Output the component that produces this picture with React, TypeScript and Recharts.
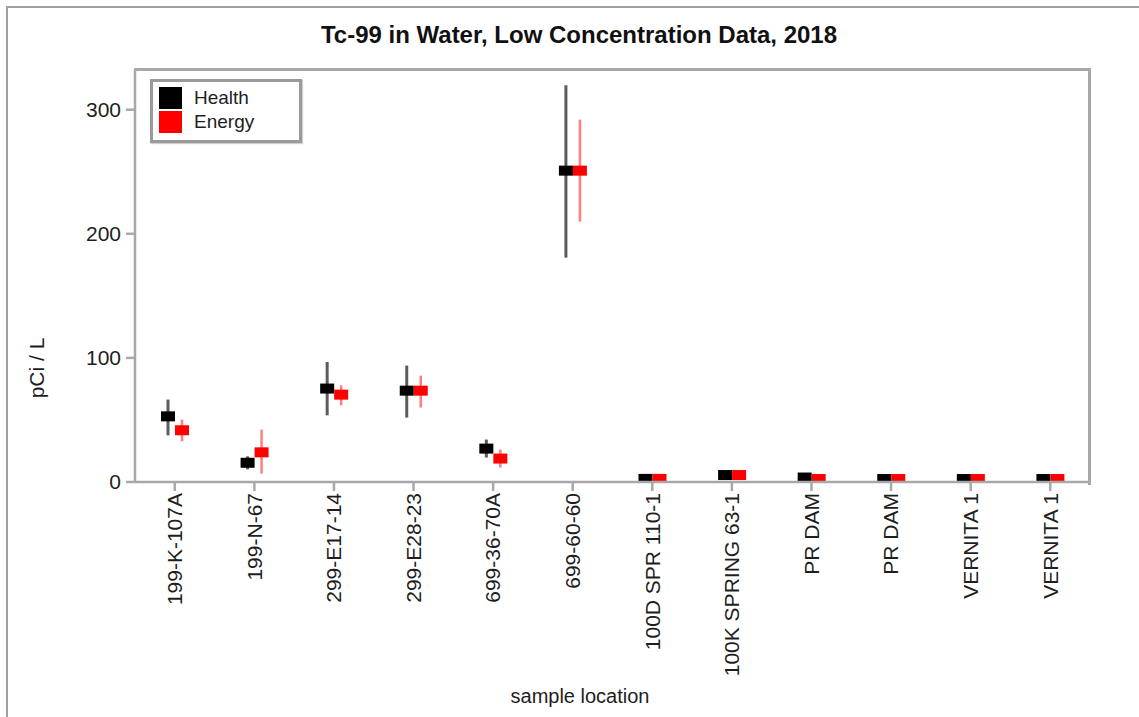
import React from "react";
import { ComposedChart, Bar, XAxis, YAxis } from "recharts";

const categories = [
  "199-K-107A",
  "199-N-67",
  "299-E17-14",
  "299-E28-23",
  "699-36-70A",
  "699-60-60",
  "100D SPR 110-1",
  "100K SPRING 63-1",
  "PR DAM",
  "PR DAM",
  "VERNITA 1",
  "VERNITA 1",
];

const healthValue = [52.9, 15.5, 75.3, 73.6, 26.9, 250.9, 2.5, 5.6, 3.6, 2.4, 2.4, 2.4];
const healthLow = [37.6, 10.2, 53.7, 51.9, 19.7, 180.8, 1.6, 4.6, 2.8, 1.8, 1.8, 1.8];
const healthHigh = [66.4, 20.7, 96.7, 93.8, 34.2, 319.7, 3.4, 6.6, 4.4, 3.0, 3.0, 3.0];

const energyValue = [41.7, 23.9, 70.4, 73.6, 18.9, 250.9, 2.5, 5.6, 2.4, 2.4, 2.4, 2.4];
const energyLow = [32.8, 6.8, 61.8, 60.0, 11.6, 209.8, 1.6, 4.6, 1.8, 1.8, 1.8, 1.8];
const energyHigh = [50.3, 42.2, 77.9, 85.7, 26.1, 292.0, 3.4, 6.6, 3.0, 3.0, 3.0, 3.0];

const yTicks = [0, 100, 200, 300];
const yMax = 332;

const data = categories.map((name, i) => ({
  idx: i,
  name,
  health: healthValue[i],
  healthLow: healthLow[i],
  healthHigh: healthHigh[i],
  energy: energyValue[i],
  energyLow: energyLow[i],
  energyHigh: energyHigh[i],
}));

const FONT = "'Liberation Sans', Arial, sans-serif";
const FRAME = "#a8a8a8";
const TEXT = "#1e1e1e";

// Marker with its error bar, both placed from the bar geometry the library computed
const makeShape = (key: string, errColor: string, errWidth: number) => (props: any) => {
  const { x, y, width, height, fill, payload } = props;
  if (x == null || y == null || !payload) return <g />;
  const v = payload[key];
  const base = y + height; // pixel of value 0
  const pxPerUnit = v ? height / v : 0;
  const yOf = (val: number) => base - val * pxPerUnit;
  const cx = x + width / 2;
  return (
    <g>
      <line
        x1={cx}
        x2={cx}
        y1={yOf(payload[key + "High"])}
        y2={yOf(payload[key + "Low"])}
        stroke={errColor}
        strokeWidth={errWidth}
      />
      <rect x={x} y={y - 5} width={width} height={10} fill={fill} />
    </g>
  );
};

const HealthShape = makeShape("health", "#5c5c5c", 3);
const EnergyShape = makeShape("energy", "#ff7f7f", 2.5);

const XTick = (props: any) => {
  const { x, y, payload } = props;
  return (
    <text
      x={x}
      y={y}
      transform={`rotate(-90, ${x}, ${y})`}
      textAnchor="end"
      dy="0.35em"
      fontFamily={FONT}
      fontSize={21}
      fill={TEXT}
    >
      {categories[payload.value]}
    </text>
  );
};

export default function App() {
  return (
    <div
      style={{
        position: "fixed",
        left: 0,
        top: 0,
        width: 1139,
        height: 717,
        background: "#fff",
        fontFamily: FONT,
        overflow: "hidden",
      }}
    >
      <svg
        width={1139}
        height={717}
        style={{ position: "absolute", left: 0, top: 0, pointerEvents: "none" }}
      >
        <path d="M 7 717 L 7 7 L 1139 7" fill="none" stroke="#a0a0a0" strokeWidth={2} />
      </svg>

      <ComposedChart
        width={1139}
        height={717}
        data={data}
        margin={{ top: 70, right: 49, bottom: 75, left: 75 }}
        barGap={0}
      >
        <XAxis
          dataKey="idx"
          type="category"
          height={160}
          interval={0}
          tick={<XTick />}
          tickSize={9}
          tickLine={{ stroke: FRAME, strokeWidth: 2.5 }}
          axisLine={{ stroke: FRAME, strokeWidth: 2.5 }}
        />
        <YAxis
          type="number"
          domain={[0, yMax]}
          allowDataOverflow
          ticks={yTicks}
          width={60}
          tickSize={9}
          tickMargin={5}
          tick={{ fontFamily: FONT, fontSize: 21, fill: TEXT }}
          tickLine={{ stroke: FRAME, strokeWidth: 2.5 }}
          axisLine={{ stroke: FRAME, strokeWidth: 2.5 }}
        />
        <Bar dataKey="health" barSize={14} fill="#000" shape={HealthShape} isAnimationActive={false} />
        <Bar dataKey="energy" barSize={14} fill="#ff0000" shape={EnergyShape} isAnimationActive={false} />
      </ComposedChart>

      {/* plot frame: top and right edges */}
      <div
        style={{
          position: "absolute",
          left: 134,
          top: 68,
          width: 954,
          height: 414,
          borderTop: `3px solid ${FRAME}`,
          borderRight: `3px solid ${FRAME}`,
          pointerEvents: "none",
        }}
      />

      <div
        style={{
          position: "absolute",
          left: 0,
          width: 1158,
          top: 20,
          textAlign: "center",
          fontSize: 24,
          fontWeight: "bold",
          color: "#111",
          lineHeight: "30px",
        }}
      >
        Tc-99 in Water, Low Concentration Data, 2018
      </div>

      <div
        style={{
          position: "absolute",
          left: 37,
          top: 368,
          transform: "translate(-50%, -50%) rotate(-90deg)",
          fontSize: 21,
          color: TEXT,
          whiteSpace: "nowrap",
        }}
      >
        pCi / L
      </div>

      <div
        style={{
          position: "absolute",
          left: 580,
          top: 696,
          transform: "translate(-50%, -50%)",
          fontSize: 20,
          color: TEXT,
          whiteSpace: "nowrap",
        }}
      >
        sample location
      </div>

      <div
        style={{
          position: "absolute",
          left: 150,
          top: 79,
          width: 146,
          height: 58,
          border: "3px solid #9a9a9a",
          boxShadow: "1px 1px 1px #d0d0d0",
          background: "#fff",
        }}
      >
        {[
          { label: "Health", color: "#000" },
          { label: "Energy", color: "#ff0000" },
        ].map((item, i) => (
          <div
            key={item.label}
            style={{
              position: "absolute",
              left: 6,
              top: 5 + i * 24,
              height: 22,
              display: "flex",
              alignItems: "center",
            }}
          >
            <div style={{ width: 23, height: 22, background: item.color }} />
            <span style={{ marginLeft: 12, fontSize: 19, color: TEXT }}>{item.label}</span>
          </div>
        ))}
      </div>
    </div>
  );
}
